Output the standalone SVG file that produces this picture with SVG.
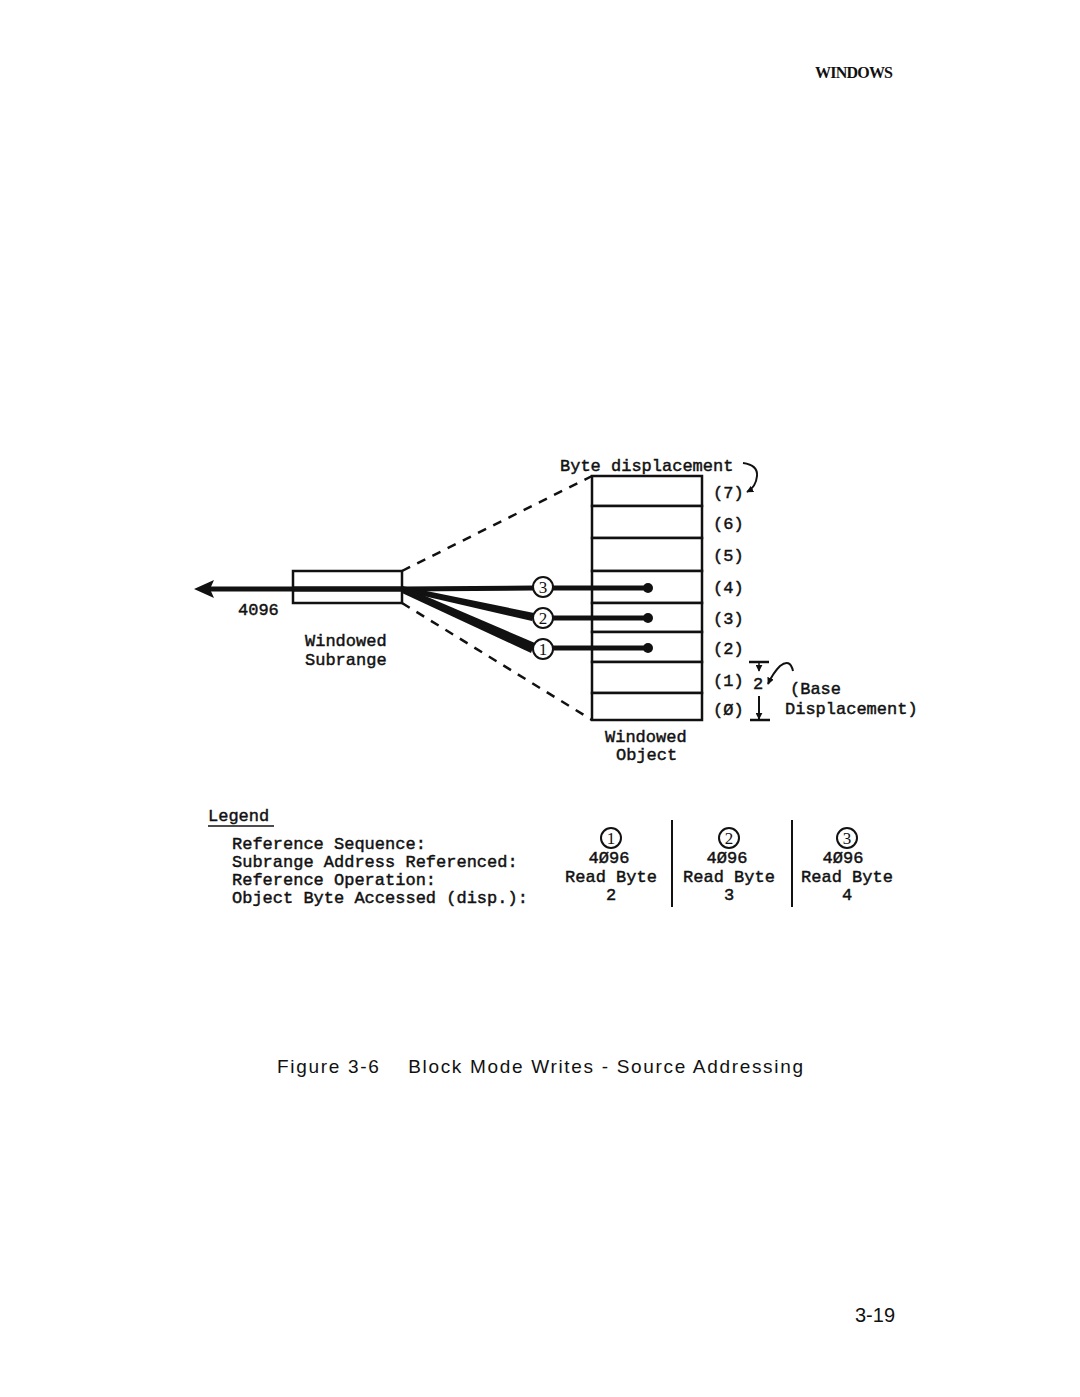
<svg xmlns="http://www.w3.org/2000/svg" width="1080" height="1397" viewBox="0 0 1080 1397">
<defs>
<style>
.m{font-family:"Liberation Mono","DejaVu Sans Mono",monospace;font-size:17px;fill:#111;stroke:#111;stroke-width:0.45}
.mc{font-family:"Liberation Mono","DejaVu Sans Mono",monospace;font-size:17px;fill:#111;stroke:#111;stroke-width:0.45;text-anchor:middle}
.cell{fill:#fff;stroke:#111;stroke-width:2.5}
.dash{fill:none;stroke:#111;stroke-width:2.5;stroke-dasharray:9,8}
.circ{fill:#fff;stroke:#111;stroke-width:2}
.ct{font-family:"Liberation Serif","DejaVu Serif",serif;font-size:17px;fill:#111;text-anchor:middle}
.thin{fill:none;stroke:#111;stroke-width:2}
</style>
<marker id="ah" viewBox="0 0 10 10" refX="9" refY="5" markerWidth="7" markerHeight="7" orient="auto-start-reverse" markerUnits="userSpaceOnUse">
<path d="M0,0 L10,5 L0,10 z" fill="#111"/>
</marker>
</defs>
<rect width="1080" height="1397" fill="#fff"/>

<text x="815" y="78" font-family="Liberation Serif,serif" font-size="16" font-weight="bold" fill="#111" textLength="78">WINDOWS</text>

<g id="connectors">
<line class="dash" x1="402" y1="571" x2="592" y2="476"/>
<line class="dash" x1="402" y1="603" x2="592" y2="720"/>
<line x1="204" y1="589" x2="402" y2="589" stroke="#111" stroke-width="5"/>
<path d="M194,589 L214,580 L210,589 L214,598 z" fill="#111"/>
<line x1="402" y1="589" x2="533" y2="588" stroke="#111" stroke-width="5"/>
<polygon points="402,586 534,613 532,621 402,591" fill="#111"/>
<polygon points="402,586 535,643 531,653 402,593" fill="#111"/>
</g>

<g id="subrange">
<rect x="293" y="571" width="109" height="32" fill="none" stroke="#111" stroke-width="2.5"/>
<line x1="293" y1="589" x2="402" y2="589" stroke="#111" stroke-width="5"/>
<text class="m" x="238" y="615">4096</text>
<text class="m" x="305" y="646">Windowed</text>
<text class="m" x="305" y="665">Subrange</text>
</g>

<g id="seq3"><circle class="circ" cx="543" cy="587" r="10"/><text class="ct" x="543" y="593">3</text></g>
<g id="seq2"><circle class="circ" cx="543" cy="618" r="10"/><text class="ct" x="543" y="624">2</text></g>
<g id="seq1"><circle class="circ" cx="543" cy="649" r="10"/><text class="ct" x="543" y="655">1</text></g>

<g id="object">
<rect class="cell" x="592" y="476" width="110" height="30"/>
<rect class="cell" x="592" y="506" width="110" height="32"/>
<rect class="cell" x="592" y="538" width="110" height="33"/>
<rect class="cell" x="592" y="571" width="110" height="32"/>
<rect class="cell" x="592" y="603" width="110" height="29"/>
<rect class="cell" x="592" y="632" width="110" height="30"/>
<rect class="cell" x="592" y="662" width="110" height="31"/>
<rect class="cell" x="592" y="693" width="110" height="27"/>
<line x1="553" y1="588" x2="648" y2="588" stroke="#111" stroke-width="5"/>
<line x1="553" y1="618" x2="648" y2="618" stroke="#111" stroke-width="5"/>
<line x1="553" y1="648" x2="648" y2="648" stroke="#111" stroke-width="5"/>
<circle cx="648" cy="588" r="5" fill="#111"/>
<circle cx="648" cy="618" r="5" fill="#111"/>
<circle cx="648" cy="648" r="5" fill="#111"/>
<text class="m" x="560" y="471">Byte displacement</text>
<path class="thin" d="M743,463 Q758,465 757,476 Q756,487 747,492" marker-end="url(#ah)"/>
<text class="m" x="713" y="498">(7)</text>
<text class="m" x="713" y="529">(6)</text>
<text class="m" x="713" y="561">(5)</text>
<text class="m" x="713" y="593">(4)</text>
<text class="m" x="713" y="624">(3)</text>
<text class="m" x="713" y="654">(2)</text>
<text class="m" x="713" y="686">(1)</text>
<text class="m" x="713" y="715">(Ø)</text>
<text class="m" x="605" y="742">Windowed</text>
<text class="m" x="616" y="760">Object</text>
</g>

<g id="base-displacement">
<line x1="749" y1="662" x2="769" y2="662" stroke="#111" stroke-width="2.5"/>
<line x1="759" y1="663" x2="759" y2="671" stroke="#111" stroke-width="1.5" marker-end="url(#ah)"/>
<text class="m" x="753" y="689">2</text>
<line x1="759" y1="696" x2="759" y2="719" stroke="#111" stroke-width="2" marker-end="url(#ah)"/>
<line x1="750" y1="720" x2="770" y2="720" stroke="#111" stroke-width="2.5"/>
<path class="thin" d="M793,671 Q790,658 780,666 Q773,673 768,684" marker-end="url(#ah)"/>
<text class="m" x="790" y="694">(Base</text>
<text class="m" x="785" y="714">Displacement)</text>
</g>

<g id="legend">
<text class="m" x="208" y="821">Legend</text>
<line x1="208" y1="826" x2="274" y2="826" stroke="#111" stroke-width="1.5"/>
<text class="m" x="232" y="849">Reference Sequence:</text>
<text class="m" x="232" y="867">Subrange Address Referenced:</text>
<text class="m" x="232" y="885">Reference Operation:</text>
<text class="m" x="232" y="903">Object Byte Accessed (disp.):</text>
<line x1="672" y1="820" x2="672" y2="907" stroke="#111" stroke-width="2"/>
<line x1="792" y1="820" x2="792" y2="907" stroke="#111" stroke-width="2"/>
<circle class="circ" cx="611" cy="838" r="10"/><text class="ct" x="611" y="844">1</text>
<circle class="circ" cx="729" cy="838" r="10"/><text class="ct" x="729" y="844">2</text>
<circle class="circ" cx="847" cy="838" r="10"/><text class="ct" x="847" y="844">3</text>
<text class="mc" x="609" y="863">4Ø96</text>
<text class="mc" x="727" y="863">4Ø96</text>
<text class="mc" x="843" y="863">4Ø96</text>
<text class="mc" x="611" y="882">Read Byte</text>
<text class="mc" x="729" y="882">Read Byte</text>
<text class="mc" x="847" y="882">Read Byte</text>
<text class="mc" x="611" y="900">2</text>
<text class="mc" x="729" y="900">3</text>
<text class="mc" x="847" y="900">4</text>
</g>

<text x="277" y="1073" font-family="Liberation Sans,sans-serif" font-size="19" fill="#111" xml:space="preserve" textLength="526">Figure 3-6    Block Mode Writes - Source Addressing</text>
<text x="855" y="1322" font-family="Liberation Sans,sans-serif" font-size="20" fill="#111">3-19</text>
</svg>
